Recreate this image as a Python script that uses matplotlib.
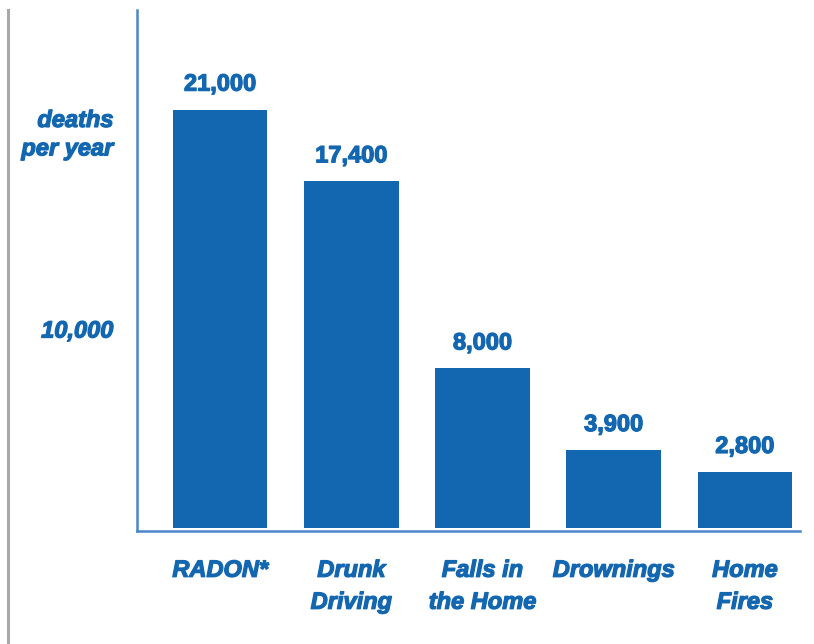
import matplotlib as mpl
mpl.use('Agg')
import matplotlib.pyplot as plt
import matplotlib.patheffects as pe
from matplotlib.lines import Line2D

categories = ["RADON*", "Drunk\nDriving", "Falls in\nthe Home", "Drownings", "Home\nFires"]
deaths = [21000, 17400, 8000, 3900, 2800]
value_labels = ["21,000", "17,400", "8,000", "3,900", "2,800"]
ytick_vals = [10000, 20000]
ytick_labels = ["10,000", "deaths\nper year"]

blue = "#1367b1"
axis_blue = "#4a86c8"
fnt = ["Liberation Sans Narrow", "Liberation Sans", "DejaVu Sans"]
heavy = [pe.withStroke(linewidth=0.9, foreground=blue)]

fig = plt.figure(figsize=(8.14, 6.44), dpi=100)
ax = fig.add_axes([137/814, 1-531/644, (800-137)/814, (531-10)/644])

x = range(len(categories))
bars = ax.bar(x, deaths, width=0.72, color=blue)

for i, v in enumerate(deaths):
    ax.annotate(value_labels[i], (i, v), xytext=(0, 10), textcoords='offset points',
                ha='center', va='bottom', color=blue, fontsize=17,
                fontweight='bold', family=fnt, path_effects=heavy)

ax.set_xlim(-0.634, 4.42)
ax.set_ylim(-170, 26000)

ax.set_xticks(list(x))
ax.set_xticklabels(categories, color=blue, fontsize=17, fontweight='bold',
                   fontstyle='italic', family=fnt, linespacing=1.5,
                   path_effects=heavy)
ax.set_yticks(ytick_vals)
ax.set_yticklabels(ytick_labels, color=blue, fontsize=17, fontweight='bold',
                   fontstyle='italic', family=fnt, linespacing=1.3,
                   path_effects=heavy)
for lab in ax.get_yticklabels():
    lab.set_multialignment('right')
ax.tick_params(axis='both', length=0)
ax.tick_params(axis='x', pad=20)
ax.tick_params(axis='y', pad=17)

for s in ['top', 'right']:
    ax.spines[s].set_visible(False)
for s in ['left', 'bottom']:
    ax.spines[s].set_color(axis_blue)
    ax.spines[s].set_linewidth(1.8)

# gray rule along the left edge
fig.add_artist(Line2D([8/814, 8/814], [0, 1-10/644], transform=fig.transFigure,
                      color="#a8a8a8", linewidth=2.2))

fig.savefig('out.png', dpi=100)
